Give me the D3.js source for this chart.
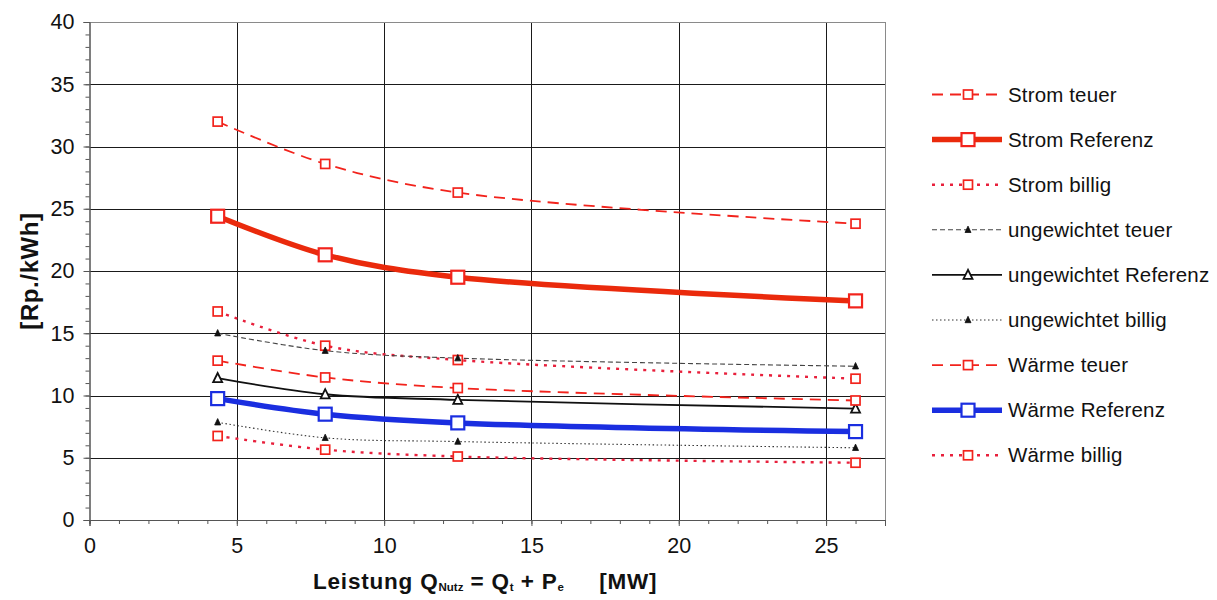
<!DOCTYPE html>
<html>
<head>
<meta charset="utf-8">
<script src="https://cdn.jsdelivr.net/npm/d3@7/dist/d3.min.js"></script>
<style>
  html, body { margin: 0; padding: 0; background: #ffffff; }
  svg { display: block; font-family: "Liberation Sans", Arial, Helvetica, sans-serif; }
</style>
</head>
<body>
<svg id="chart" width="1217" height="600"></svg>
<script>
// ---- data ----
const xValues = [4.35, 8, 12.5, 26];
const seriesNames = ["Strom teuer", "Strom Referenz", "Strom billig",
  "ungewichtet teuer", "ungewichtet Referenz", "ungewichtet billig",
  "Wärme teuer", "Wärme Referenz", "Wärme billig"];
const stromTeuer = [32.0, 28.6, 26.3, 23.8];
const stromReferenz = [24.4, 21.3, 19.5, 17.6];
const stromBillig = [16.75, 14.0, 12.85, 11.35];
const ungewTeuer = [15.0, 13.6, 13.0, 12.35];
const ungewReferenz = [11.4, 10.1, 9.65, 8.95];
const ungewBillig = [7.85, 6.6, 6.3, 5.8];
const waermeTeuer = [12.8, 11.45, 10.6, 9.6];
const waermeReferenz = [9.75, 8.5, 7.8, 7.1];
const waermeBillig = [6.75, 5.65, 5.1, 4.6];
const yTicks = [0, 5, 10, 15, 20, 25, 30, 35, 40];
const xTicks = [0, 5, 10, 15, 20, 25];

// ---- styles ----
const RED = "#f2231c", RED2 = "#e8203c", BLUE = "#1a2ee0";
const styles = [
  {color: RED, width: 1.8, dash: "11,7", marker: "square", size: 9, mstroke: RED},
  {color: "#ea2a0c", width: 5.5, dash: null, marker: "square", size: 13, mstroke: RED},
  {color: RED2, width: 2.4, dash: "3,6", marker: "square", size: 9, mstroke: RED},
  {color: "#444", width: 1.1, dash: "5,3", marker: "tri-filled", size: 6, mstroke: "#111"},
  {color: "#111", width: 1.8, dash: null, marker: "tri-open", size: 9, mstroke: "#111"},
  {color: "#333", width: 1.1, dash: "1.5,2.5", marker: "tri-filled", size: 6, mstroke: "#111"},
  {color: RED, width: 1.8, dash: "11,7", marker: "square", size: 9, mstroke: RED},
  {color: BLUE, width: 5.5, dash: null, marker: "square", size: 13, mstroke: BLUE},
  {color: RED2, width: 2.4, dash: "3,6", marker: "square", size: 9, mstroke: RED}
];
const values = [stromTeuer, stromReferenz, stromBillig, ungewTeuer, ungewReferenz,
  ungewBillig, waermeTeuer, waermeReferenz, waermeBillig];
const series = seriesNames.map((name, i) => ({name, vals: values[i], st: styles[i]}));

// ---- layout ----
const svg = d3.select("#chart");
const L = 89.5, R = 885, T = 22, B = 520;
const x = d3.scaleLinear().domain([0, 27]).range([L, R]);
const y = d3.scaleLinear().domain([0, 40]).range([B, T]);

// gridlines
const g = svg.append("g");
g.selectAll(".hg").data(yTicks.filter(d => d > 0 && d < 40)).enter().append("line")
  .attr("x1", L).attr("x2", R).attr("y1", d => Math.round(y(d)) + 0.5).attr("y2", d => Math.round(y(d)) + 0.5)
  .attr("stroke", "#1a1a1a").attr("stroke-width", 1);
g.selectAll(".vg").data(xTicks.filter(d => d > 0)).enter().append("line")
  .attr("y1", T).attr("y2", B).attr("x1", d => Math.round(x(d)) + 0.5).attr("x2", d => Math.round(x(d)) + 0.5)
  .attr("stroke", "#1a1a1a").attr("stroke-width", 1);
// frame top/right
svg.append("line").attr("x1", L).attr("x2", R).attr("y1", Math.round(T) + 0.5).attr("y2", Math.round(T) + 0.5)
  .attr("stroke", "#8a8a8a");
svg.append("line").attr("x1", Math.round(R) + 0.5).attr("x2", Math.round(R) + 0.5).attr("y1", T).attr("y2", B)
  .attr("stroke", "#8a8a8a");

// axes
const yAxis = d3.axisLeft(y).tickValues(yTicks).tickSize(6).tickPadding(9).tickFormat(d3.format("d"));
const yMinor = d3.axisLeft(y).tickValues(d3.range(0, 41, 1)).tickSize(4).tickFormat("");
const xAxis = d3.axisBottom(x).tickValues(xTicks).tickSize(6).tickPadding(12).tickFormat(d3.format("d"));
const xMinor = d3.axisBottom(x).tickValues(d3.range(0, 28, 1)).tickSize(4).tickFormat("");

function styleAxis(sel) {
  sel.selectAll("path").attr("stroke", "#555");
  sel.selectAll("line").attr("stroke", "#555");
  sel.selectAll("text").attr("font-size", 21.5).attr("fill", "#111")
    .attr("font-family", "'Liberation Sans', Arial, sans-serif");
}
svg.append("g").attr("transform", `translate(${L},0)`).call(yMinor).call(styleAxis);
svg.append("g").attr("transform", `translate(${L},0)`).call(yAxis).call(styleAxis);
svg.append("g").attr("transform", `translate(0,${B})`).call(xMinor).call(styleAxis);
svg.append("g").attr("transform", `translate(0,${B})`).call(xAxis).call(styleAxis);

// axis titles
svg.append("text").attr("transform", `translate(38,${(T + B) / 2}) rotate(-90)`)
  .attr("text-anchor", "middle").attr("font-weight", "bold").attr("font-size", 24).attr("fill", "#111")
  .attr("letter-spacing", 0.6)
  .text("[Rp./kWh]");
const xt = svg.append("text").attr("x", 313).attr("y", 589)
  .attr("font-weight", "bold").attr("font-size", 22.5).attr("fill", "#111").attr("letter-spacing", 0.8);
xt.append("tspan").text("Leistung Q");
xt.append("tspan").attr("font-size", 11.5).attr("letter-spacing", 0).attr("dy", 2).text("Nutz");
xt.append("tspan").attr("dy", -2).text(" = Q");
xt.append("tspan").attr("font-size", 11.5).attr("letter-spacing", 0).attr("dy", 2).text("t");
xt.append("tspan").attr("dy", -2).text(" + P");
xt.append("tspan").attr("font-size", 11.5).attr("letter-spacing", 0).attr("dy", 2).text("e");
xt.append("tspan").attr("dy", -2).text("\u00a0\u00a0\u00a0\u00a0 [MW]");

// markers
function drawMarker(sel, st, cx, cy) {
  const s = st.size;
  if (st.marker === "square") {
    sel.append("rect").attr("x", cx - s / 2).attr("y", cy - s / 2).attr("width", s).attr("height", s)
      .attr("fill", "#fff").attr("stroke", st.mstroke).attr("stroke-width", s > 10 ? 2.2 : 1.7);
  } else {
    const h = s * 0.9;
    const pts = [[cx, cy - h / 2 - 1], [cx - s / 2, cy + h / 2], [cx + s / 2, cy + h / 2]];
    sel.append("path").attr("d", "M" + pts.map(p => p.join(",")).join("L") + "Z")
      .attr("fill", st.marker === "tri-filled" ? "#111" : "#fff")
      .attr("stroke", st.mstroke).attr("stroke-width", st.marker === "tri-filled" ? 0.8 : 1.8);
  }
}

// series lines
const line = d3.line().x(d => x(d[0])).y(d => y(d[1])).curve(d3.curveCatmullRom.alpha(0.5));
const plot = svg.append("g");
series.forEach(s => {
  const pts = xValues.map((xv, i) => [xv, s.vals[i]]);
  plot.append("path").datum(pts).attr("d", line).attr("fill", "none")
    .attr("stroke", s.st.color).attr("stroke-width", s.st.width)
    .attr("stroke-dasharray", s.st.dash).attr("stroke-linejoin", "round");
});
series.forEach(s => {
  xValues.forEach((xv, i) => drawMarker(plot, s.st, x(xv), y(s.vals[i])));
});

// legend
const lg = svg.append("g");
series.forEach((s, i) => {
  const cy = 94.5 + i * 45.1;
  lg.append("line").attr("x1", 932).attr("x2", 1002).attr("y1", cy).attr("y2", cy)
    .attr("stroke", s.st.color).attr("stroke-width", s.st.width).attr("stroke-dasharray", s.st.dash);
  drawMarker(lg, s.st, 968, cy);
  lg.append("text").attr("x", 1008).attr("y", cy + 7).attr("font-size", 20.5).attr("fill", "#111")
    .attr("letter-spacing", 0.15)
    .text(s.name);
});
</script>
</body>
</html>
